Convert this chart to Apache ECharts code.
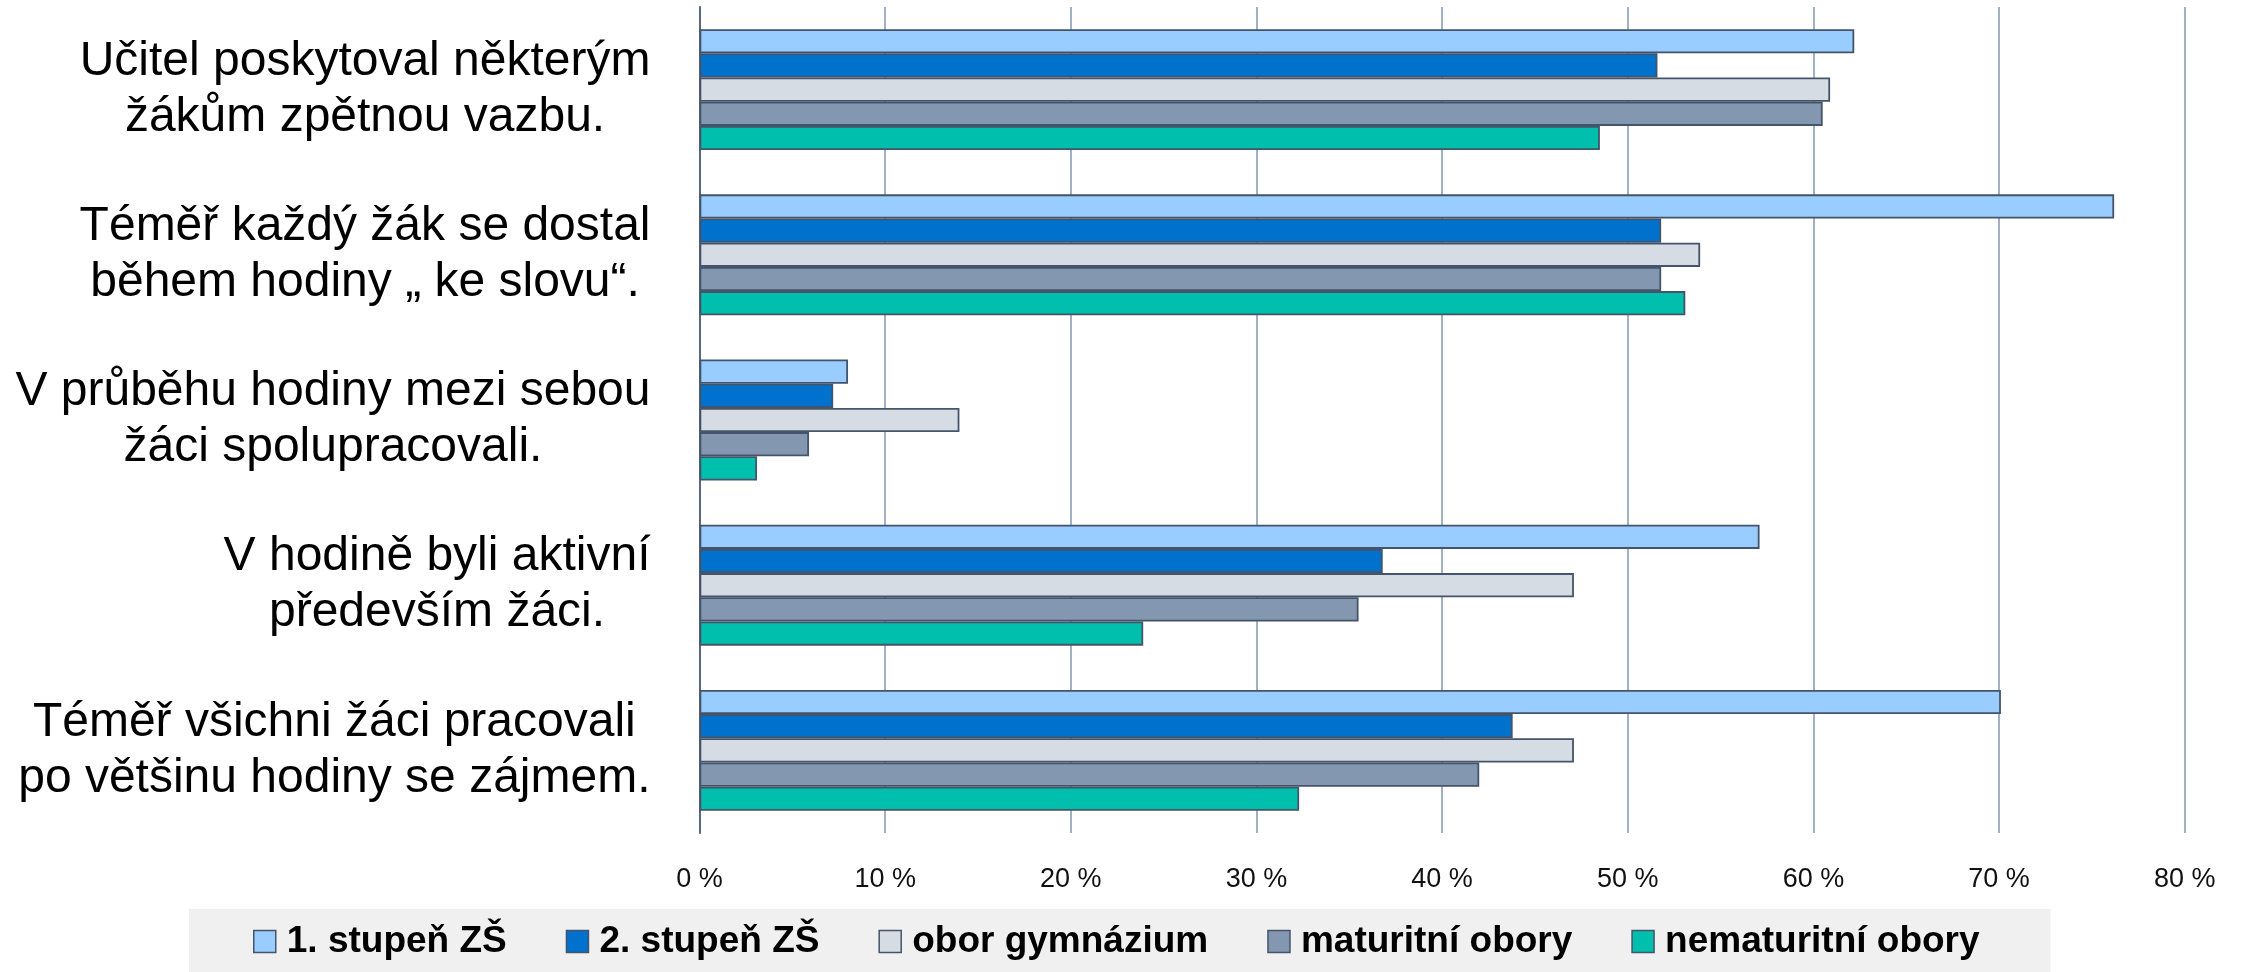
<!DOCTYPE html>
<html>
<head>
<meta charset="utf-8">
<script src="https://cdn.jsdelivr.net/npm/echarts@6/dist/echarts.min.js"></script>
<style>
html,body{margin:0;padding:0;background:#fff;}
#chart{width:2250px;height:972px;}
</style>
</head>
<body>
<div id="chart"></div>
<script>
const categories = [
  'Učitel poskytoval některým\nžákům zpětnou vazbu.',
  'Téměř každý žák se dostal\nběhem hodiny „ ke slovu“.',
  'V průběhu hodiny mezi sebou\nžáci spolupracovali.',
  'V hodině byli aktivní\npředevším žáci.',
  'Téměř všichni žáci pracovali\npo většinu hodiny se zájmem.'
];
const seriesNames = ['1. stupeň ZŠ', '2. stupeň ZŠ', 'obor gymnázium', 'maturitní obory', 'nematuritní obory'];
const stupen1 = [62.2, 76.2, 8.0, 57.1, 70.1];
const stupen2 = [51.6, 51.8, 7.2, 36.8, 43.8];
const gymnazium = [60.9, 53.9, 14.0, 47.1, 47.1];
const maturitni = [60.5, 51.8, 5.9, 35.5, 42.0];
const nematuritni = [48.5, 53.1, 3.1, 23.9, 32.3];
const xTicks = [0, 10, 20, 30, 40, 50, 60, 70, 80];

const colors = ['#99CCFF', '#0071CC', '#D6DCE4', '#8497B0', '#00BFAD'];
const values = [stupen1, stupen2, gymnazium, maturitni, nematuritni];
const FONT = '"Liberation Sans", Arial, sans-serif';

const chart = echarts.init(document.getElementById('chart'));
chart.setOption({
  backgroundColor: '#ffffff',
  animation: false,
  grid: { left: 699.5, right: 65.3, top: 7, bottom: 139 },
  legend: {
    left: 189,
    top: 909,
    backgroundColor: '#F0F0F0',
    padding: [14, 71, 14, 64],
    itemWidth: 22,
    itemHeight: 22,
    itemGap: 59,
    icon: 'rect',
    itemStyle: { borderColor: '#44546A', borderWidth: 1.5 },
    textStyle: { fontFamily: FONT, fontWeight: 'bold', fontSize: 37, color: '#000', padding: [0, 0, 0, 6] },
    data: seriesNames
  },
  xAxis: {
    type: 'value',
    min: 0,
    max: 80,
    interval: 10,
    axisLine: { show: false },
    axisTick: { show: false },
    splitLine: { show: true, lineStyle: { color: '#8497B0', width: 1.5 } },
    axisLabel: {
      margin: 33,
      fontFamily: FONT,
      fontSize: 27,
      color: '#111',
      formatter: function (v) { return xTicks.indexOf(v) >= 0 ? v + ' %' : ''; }
    }
  },
  yAxis: {
    type: 'category',
    inverse: true,
    data: categories,
    axisLine: { show: true, lineStyle: { color: '#5A677A', width: 2 } },
    axisTick: { show: false },
    axisLabel: {
      margin: 49,
      align: 'right',
      formatter: function (v) {
        return v.split('\n').map(function (l) { return '{c|' + l + '}'; }).join('\n');
      },
      rich: {
        c: { fontFamily: FONT, fontSize: 48, lineHeight: 56, color: '#000', align: 'center' }
      }
    }
  },
  series: seriesNames.map(function (name, i) {
    return {
      name: name,
      type: 'bar',
      data: values[i],
      barGap: '0%',
      barCategoryGap: '26.8%',
      itemStyle: { color: colors[i], borderColor: '#44546A', borderWidth: 1.8 }
    };
  })
});
</script>
</body>
</html>
